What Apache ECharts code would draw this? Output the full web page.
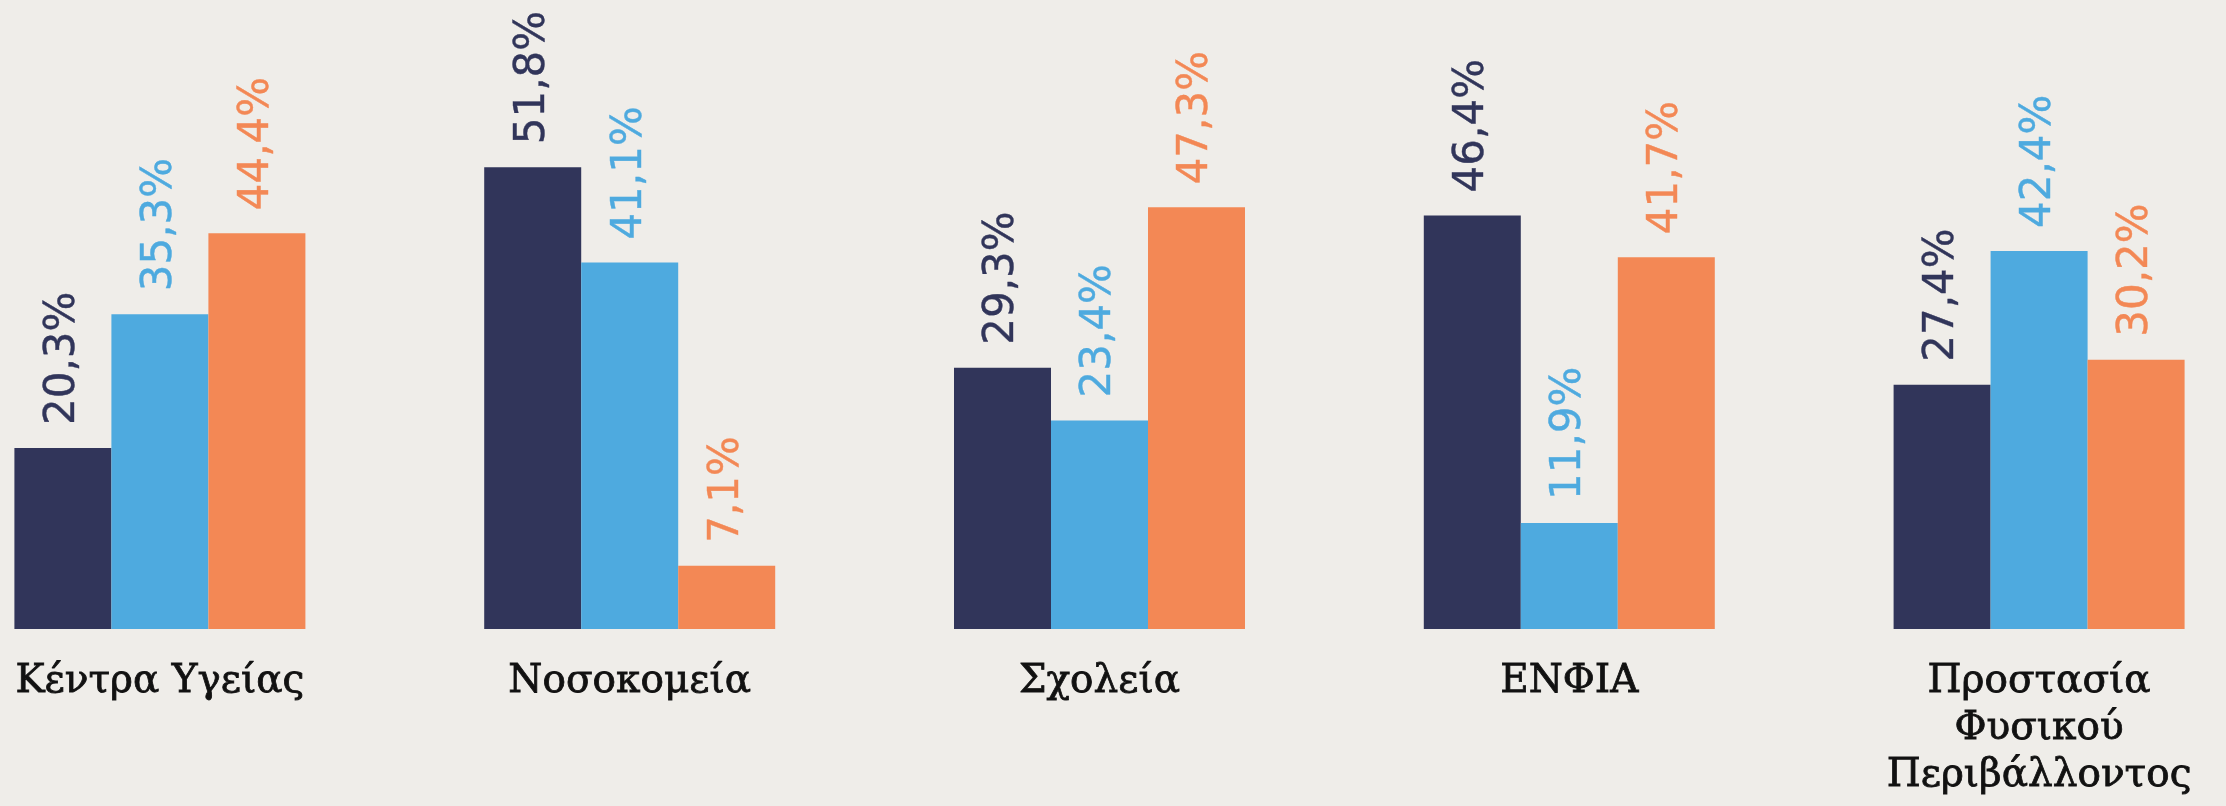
<!DOCTYPE html>
<html>
<head>
<meta charset="utf-8">
<script src="https://cdn.jsdelivr.net/npm/echarts@6/dist/echarts.min.js"></script>
<style>
  html, body { margin: 0; padding: 0; background: #efede9; }
  #chart { width: 2226px; height: 806px; }
</style>
</head>
<body>
<div id="chart"></div>
<script>
// κατηγορίες και ποσοστά
var categories = ['Κέντρα Υγείας', 'Νοσοκομεία', 'Σχολεία', 'ΕΝΦΙΑ', 'Προστασία\nΦυσικού\nΠεριβάλλοντος'];
var darkValues = [20.3, 51.8, 29.3, 46.4, 27.4];
var blueValues = [35.3, 41.1, 23.4, 11.9, 42.4];
var orangeValues = [44.4, 7.1, 47.3, 41.7, 30.2];

var colors = ['#31355a', '#4eaadf', '#f38855'];

function pct(p) {
    return p.value.toFixed(1).replace('.', ',') + '%';
}

function makeSeries(name, data, color) {
    return {
        name: name,
        type: 'bar',
        data: data,
        barWidth: 97,
        barGap: '0%',
        itemStyle: { color: color },
        label: {
            show: true,
            position: 'top',
            distance: 31,
            rotate: 90,
            align: 'left',
            verticalAlign: 'middle',
            offset: [-8, 0],
            formatter: pct,
            color: color,
            textBorderColor: color,
            textBorderWidth: 0.4,
            fontFamily: 'DejaVu Sans',
            fontSize: 42
        }
    };
}

var myChart = echarts.init(document.getElementById('chart'));

var option = {
    backgroundColor: '#efede9',
    animation: false,
    grid: { left: -75, right: -48, top: 5, bottom: 177, outerBoundsMode: 'none', containLabel: false },
    xAxis: {
        type: 'category',
        data: categories,
        axisLine: { show: false },
        axisTick: { show: false },
        axisLabel: {
            interval: 0,
            margin: 29,
            color: '#111111',
            textBorderColor: '#111111',
            textBorderWidth: 0.8,
            fontFamily: 'DejaVu Serif',
            fontSize: 39,
            lineHeight: 47
        }
    },
    yAxis: {
        type: 'value',
        min: 0,
        max: 70,
        show: false,
        splitLine: { show: false }
    },
    series: [
        makeSeries('1', darkValues, colors[0]),
        makeSeries('2', blueValues, colors[1]),
        makeSeries('3', orangeValues, colors[2])
    ]
};

myChart.setOption(option);
</script>
</body>
</html>
